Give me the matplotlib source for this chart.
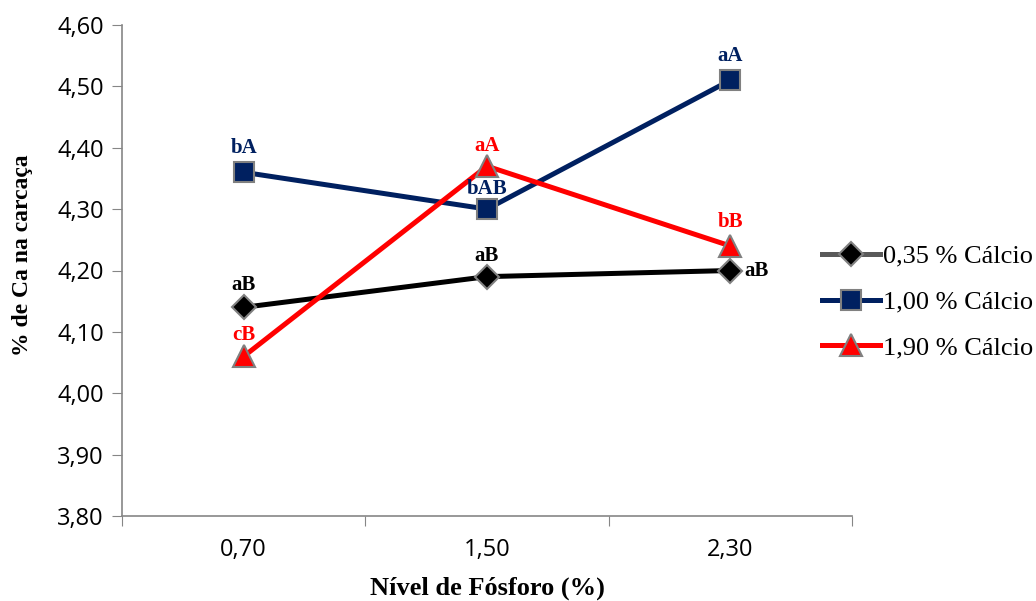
import matplotlib
matplotlib.use("Agg")
import matplotlib.pyplot as plt
from matplotlib.lines import Line2D
from matplotlib.ticker import FixedLocator, NullFormatter

# Data
fosforo_labels = ["0,70", "1,50", "2,30"]
series_names = ["0,35 % Cálcio", "1,00 % Cálcio", "1,90 % Cálcio"]
ca_035 = [4.14, 4.19, 4.20]
ca_100 = [4.36, 4.30, 4.51]
ca_190 = [4.06, 4.37, 4.24]
letters_035 = ["aB", "aB", "aB"]
letters_100 = ["bA", "bAB", "aA"]
letters_190 = ["cB", "aA", "bB"]
yticks = [3.80, 3.90, 4.00, 4.10, 4.20, 4.30, 4.40, 4.50, 4.60]

colors = ["#000000", "#002060", "#FF0000"]
legend_line_colors = ["#595959", "#002060", "#FF0000"]
markers = ["D", "s", "^"]
msizes = [12, 15, 16]
edge = "#808080"

serif = ["Liberation Serif", "DejaVu Serif"]
sans = ["Open Sans", "DejaVu Sans"]

fig = plt.figure(figsize=(10.36, 6.01), dpi=100)
ax = fig.add_axes([122 / 1036, 1 - 516 / 601, 730 / 1036, 491 / 601])

x = [0.5, 1.5, 2.5]
all_series = [ca_035, ca_100, ca_190]
for vals, c, m, ms in zip(all_series, colors, markers, msizes):
    ax.plot(x, vals, color=c, lw=3.6, marker=m, markersize=ms,
            markerfacecolor=c, markeredgecolor=edge, markeredgewidth=1.5,
            zorder=3, solid_capstyle="round")

# Significance letters (label offsets in points: dx, dy)
offs_035 = [(0, 9), (0, 8), (10, 0)]
offs_100 = [(0, 10), (0, 7), (0, 10)]
offs_190 = [(0, 8), (0, 7), (0, 10)]
for vals, letters, offs, c in zip(all_series, [letters_035, letters_100, letters_190],
                                  [offs_035, offs_100, offs_190], colors):
    for xi, v, t, (dx, dy) in zip(x, vals, letters, offs):
        if dx:
            ax.annotate(t, (xi, v), xytext=(dx, dy), textcoords="offset points",
                        color=c, fontsize=15, fontweight="bold", family=serif,
                        ha="left", va="center")
        else:
            ax.annotate(t, (xi, v), xytext=(dx, dy), textcoords="offset points",
                        color=c, fontsize=15, fontweight="bold", family=serif,
                        ha="center", va="bottom")

ax.set_xlim(0, 3)
ax.set_ylim(3.80, 4.60)
ax.set_yticks(yticks)
ax.set_yticklabels([f"{t:.2f}".replace(".", ",") for t in yticks],
                   fontsize=17, family=sans)
ax.xaxis.set_major_locator(FixedLocator([0, 1, 2, 3]))
ax.xaxis.set_major_formatter(NullFormatter())
ax.set_xticks(x, minor=True)
ax.set_xticklabels(fosforo_labels, minor=True, fontsize=17, family=sans)
ax.tick_params(axis="x", which="minor", length=0, pad=16)
ax.tick_params(axis="x", which="major", length=7, color="#868686", direction="out")
ax.tick_params(axis="y", length=7, color="#868686", direction="out", pad=6)

for s in ["top", "right"]:
    ax.spines[s].set_visible(False)
for s in ["left", "bottom"]:
    ax.spines[s].set_color("#868686")
    ax.spines[s].set_linewidth(1.2)

ax.set_xlabel("Nível de Fósforo (%)", fontsize=19, fontweight="bold", family=serif)
ax.set_ylabel("% de Ca na carcaça", fontsize=17, fontweight="bold", family=serif)
ax.xaxis.set_label_coords(0.5, (516 - 577) / 491)
ax.yaxis.set_label_coords((33 - 122) / 730, (516 - 255) / 491)

handles = [Line2D([], [], color=lc, lw=3.6, marker=m, markersize=ms,
                  markerfacecolor=c, markeredgecolor=edge, markeredgewidth=1.5)
           for lc, c, m, ms in zip(legend_line_colors, colors, markers, msizes)]
fig.legend(handles, series_names, loc="center left",
           bbox_to_anchor=(822 / 1036, 1 - 302 / 601), frameon=False,
           prop={"family": serif, "size": 19}, handlelength=2.2,
           handletextpad=0.1, labelspacing=0.85, borderaxespad=0,
           borderpad=0)

fig.savefig("out.png", dpi=100)
